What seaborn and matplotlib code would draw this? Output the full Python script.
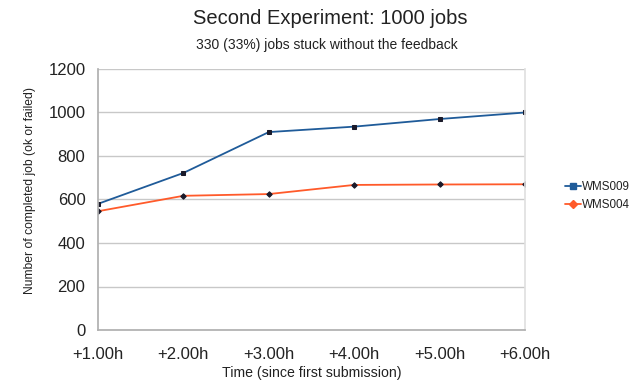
import matplotlib
matplotlib.use("Agg")
import matplotlib.pyplot as plt
import seaborn as sns
import pandas as pd
from matplotlib.lines import Line2D

hours = ["+1.00h", "+2.00h", "+3.00h", "+4.00h", "+5.00h", "+6.00h"]
wms009 = [580, 722, 910, 935, 970, 1000]
wms004 = [546, 617, 625, 667, 669, 670]
series_names = ["WMS009", "WMS004"]

sns.set_theme(style="white")
plt.rcParams['font.family'] = ['Liberation Sans', 'DejaVu Sans']

df = pd.DataFrame({
    "x": list(range(len(hours))) * 2,
    "value": wms009 + wms004,
    "series": [series_names[0]] * len(hours) + [series_names[1]] * len(hours),
})

fig = plt.figure(figsize=(6.36, 3.81), dpi=100)
ax = fig.add_axes([98 / 636, 1 - 330 / 381, (525 - 98) / 636, (330 - 69) / 381])

colors = {"WMS009": "#1f5b99", "WMS004": "#ff5a2a"}
markers = {"WMS009": "s", "WMS004": "D"}
msize = {"WMS009": 3.5, "WMS004": 2.8}
for name in series_names:
    sub = df[df["series"] == name]
    sns.lineplot(data=sub, x="x", y="value", ax=ax, color=colors[name], lw=1.3,
                 marker=markers[name], markersize=msize[name],
                 markerfacecolor="#1a1a2a", markeredgecolor="#1a1a2a",
                 legend=False)

ax.set_xlim(0, len(hours) - 1)
ax.set_ylim(0, 1200)
ax.set_yticks(range(0, 1201, 200))
ax.set_xticks(range(len(hours)))
ax.set_xticklabels(hours)
ax.grid(axis="y", color="#c8c8c8", lw=1)
ax.tick_params(axis="both", labelsize=12, colors="#222222")
ax.tick_params(axis="x", length=6, width=1, color="#b0b0b0", pad=6)
ax.tick_params(axis="y", length=6, width=1, color="#b0b0b0", pad=3)
for s in ["left", "bottom"]:
    ax.spines[s].set_color("#b0b0b0")
ax.spines["right"].set_color("#e0e0e0")
ax.spines["top"].set_visible(False)

ax.set_xlabel("Time (since first submission)", fontsize=10.2, color="#222222", labelpad=3)
ax.set_ylabel("Number of completed job (ok or failed)", fontsize=8.7, color="#222222", labelpad=9)
ax.yaxis.label.set_position((0, (330 - 191) / (330 - 69)))

fig.text(330 / 636, 1 - 18 / 381, "Second Experiment: 1000 jobs",
         ha="center", va="center", fontsize=14.5, color="#222222")
fig.text(327 / 636, 1 - 45 / 381, "330 (33%) jobs stuck without the feedback",
         ha="center", va="center", fontsize=10, color="#222222")

handles = [Line2D([], [], color=colors[n], lw=1.3, marker=markers[n],
                  markersize=5 if n == "WMS009" else 4.5,
                  markerfacecolor=colors[n], markeredgecolor=colors[n])
           for n in series_names]
leg = fig.legend(handles, series_names, loc="center left",
                 bbox_to_anchor=(563 / 636, 1 - 196 / 381),
                 frameon=False, fontsize=8.4, borderpad=0.2, borderaxespad=0,
                 handlelength=1.3, handletextpad=0.15, labelspacing=0.45)
for t in leg.get_texts():
    t.set_color("#222222")

fig.savefig("out.png", dpi=100)
